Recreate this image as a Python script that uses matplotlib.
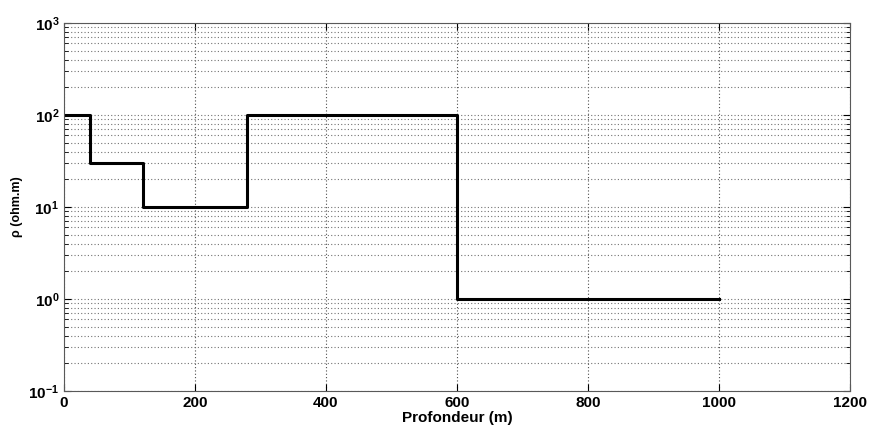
import numpy as np
import matplotlib.pyplot as plt
from matplotlib.ticker import LogLocator, NullFormatter

# modele de resistivite en couches
profondeur = [0, 40, 120, 280, 600, 1000]
resistivite = [100, 30, 10, 100, 1, 1]

plt.rcParams['font.family'] = ['Liberation Sans', 'DejaVu Sans']
plt.rcParams['font.weight'] = 'bold'

fig = plt.figure(figsize=(8.69, 4.32), dpi=100)
ax = fig.add_axes([64/869, 1 - 391/432, (850-64)/869, (391-23)/432])

ax.plot(profondeur, resistivite, drawstyle='steps-post', color='k', lw=2.2)

ax.set_yscale('log')
ax.set_xlim(0, 1200)
ax.set_ylim(1e-1, 1e3)
ax.set_xticks(np.arange(0, 1201, 200))
ax.yaxis.set_major_locator(LogLocator(base=10, numticks=10))
ax.yaxis.set_minor_locator(LogLocator(base=10, subs=np.arange(2, 10), numticks=20))
ax.yaxis.set_minor_formatter(NullFormatter())

ax.grid(True, which='major', axis='x', ls=(0, (1, 2)), color='0.3', lw=0.8)
ax.grid(True, which='both', axis='y', ls=(0, (1, 2)), color='0.45', lw=0.8)
ax.tick_params(direction='in', which='both', top=True, right=True, labelsize=11)
ax.tick_params(which='major', length=5)
ax.tick_params(which='minor', length=3)
for s in ax.spines.values():
    s.set_color('0.35')

ax.set_xlabel('Profondeur (m)', fontsize=11, fontweight='bold', labelpad=1)
ax.set_ylabel('ρ (ohm.m)', fontsize=9, fontweight='bold', labelpad=4)

fig.savefig('out.png', dpi=100)
